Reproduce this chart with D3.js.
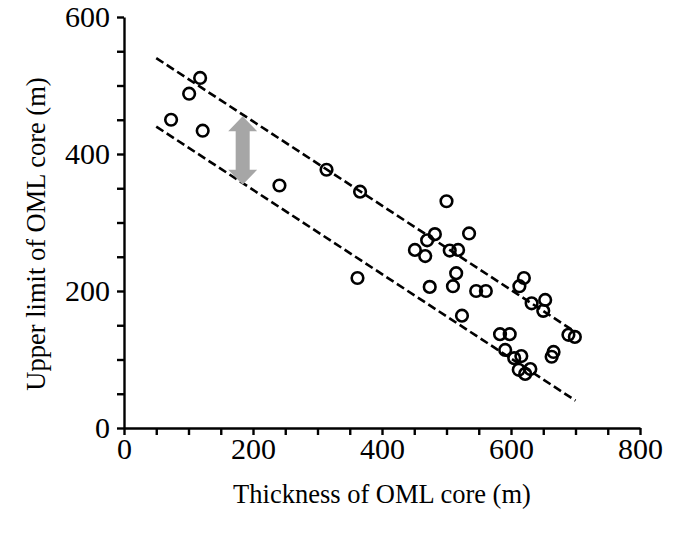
<!DOCTYPE html>
<html>
<head>
<meta charset="utf-8">
<script src="https://cdn.jsdelivr.net/npm/d3@7"></script>
<style>
  body { margin: 0; background: #fff; }
  svg { display: block; }
  svg text { font-family: "Liberation Serif", "Times New Roman", serif; }
</style>
</head>
<body>
<div id="chart"></div>
<script>
// thickness of OML core (m) vs upper limit of OML core (m)
const thickness = [73, 101, 118, 122, 241, 314, 366, 362, 500, 535, 482, 470, 451, 467, 505, 518,
                   515, 510, 474, 546, 561, 524, 620, 613, 632, 653, 650, 583, 598, 689, 699, 666,
                   663, 591, 605, 616, 612, 622, 630];
const upperLimit = [450, 488, 511, 434, 354, 377, 345, 219, 331, 284, 283, 274, 260, 251, 259, 260,
                    226, 207, 206, 200, 200, 164, 219, 207, 182, 187, 171, 137, 137, 136, 133, 111,
                    104, 114, 102, 105, 85, 79, 86];

// dashed bounding lines: [x1, y1, x2, y2]
const upperBound = [50, 540, 700, 140];
const lowerBound = [50, 440, 700, 40];

// grey double arrow: x, y from, y to
const arrowX = 184;
const arrowY = [355, 455];

const xTicks = [0, 200, 400, 600, 800];
const yTicks = [0, 200, 400, 600];

function chart(container) {
    const width = 676;
    const height = 535;
    const marginTop = 17;
    const marginRight = 36;
    const marginBottom = 107;
    const marginLeft = 124;

    const x = d3.scaleLinear()
        .domain([0, 800])
        .range([marginLeft, width - marginRight]);

    const y = d3.scaleLinear()
        .domain([0, 600])
        .range([height - marginBottom, marginTop]);

    const svg = d3.select(container).append("svg")
        .attr("width", width)
        .attr("height", height)
        .attr("viewBox", [0, 0, width, height]);

    // axes, minor ticks every 50
    const xAxis = svg.append("g")
        .attr("transform", `translate(0,${height - marginBottom})`)
        .call(d3.axisBottom(x)
            .tickValues(d3.range(0, 801, 50))
            .tickSize(7)
            .tickSizeOuter(0)
            .tickFormat(d => xTicks.includes(d) ? d : ""));

    const yAxis = svg.append("g")
        .attr("transform", `translate(${marginLeft},0)`)
        .call(d3.axisLeft(y)
            .tickValues(d3.range(0, 601, 50))
            .tickSize(7)
            .tickSizeOuter(0)
            .tickFormat(d => yTicks.includes(d) ? d : ""));

    [xAxis, yAxis].forEach(g => {
        g.attr("font-family", null).attr("font-size", null);
        g.select(".domain").attr("stroke", "#000").attr("stroke-width", 2.4);
        g.selectAll(".tick line").attr("stroke", "#000").attr("stroke-width", 2.4);
        g.selectAll(".tick text")
            .attr("fill", "#000")
            .style("font-family", "'Liberation Serif', 'Times New Roman', serif")
            .style("font-size", "30px");
    });
    xAxis.selectAll(".tick text").attr("dy", null).attr("y", 31);
    yAxis.selectAll(".tick text").attr("x", -14);

    // axis titles
    svg.append("text")
        .attr("x", (x(0) + x(800)) / 2)
        .attr("y", 503)
        .attr("text-anchor", "middle")
        .style("font-size", "26.5px")
        .text("Thickness of OML core (m)");

    svg.append("text")
        .attr("transform", `translate(45,234) rotate(-90)`)
        .attr("text-anchor", "middle")
        .style("font-size", "26.5px")
        .text("Upper limit of OML core (m)");

    // dashed bounds
    svg.append("g")
        .selectAll("line")
        .data([upperBound, lowerBound])
        .join("line")
            .attr("x1", d => x(d[0]))
            .attr("y1", d => y(d[1]))
            .attr("x2", d => x(d[2]))
            .attr("y2", d => y(d[3]))
            .attr("stroke", "#000")
            .attr("stroke-width", 2.6)
            .attr("stroke-dasharray", "8.5,4");

    // grey double arrow
    const ax = x(arrowX);
    const yTop = y(arrowY[1]);
    const yBot = y(arrowY[0]);
    const head = 15, hw = 14.5, sw = 7;
    svg.append("path")
        .attr("fill", "#a6a6a6")
        .attr("d", `M${ax},${yTop} L${ax + hw},${yTop + head} L${ax + sw},${yTop + head}
                    L${ax + sw},${yBot - head} L${ax + hw},${yBot - head} L${ax},${yBot}
                    L${ax - hw},${yBot - head} L${ax - sw},${yBot - head} L${ax - sw},${yTop + head}
                    L${ax - hw},${yTop + head} Z`);

    // points
    svg.append("g")
        .selectAll("circle")
        .data(d3.zip(thickness, upperLimit))
        .join("circle")
            .attr("cx", d => x(d[0]))
            .attr("cy", d => y(d[1]))
            .attr("r", 5.8)
            .attr("fill", "none")
            .attr("stroke", "#000")
            .attr("stroke-width", 2.6);
}

chart("#chart");
</script>
</body>
</html>
